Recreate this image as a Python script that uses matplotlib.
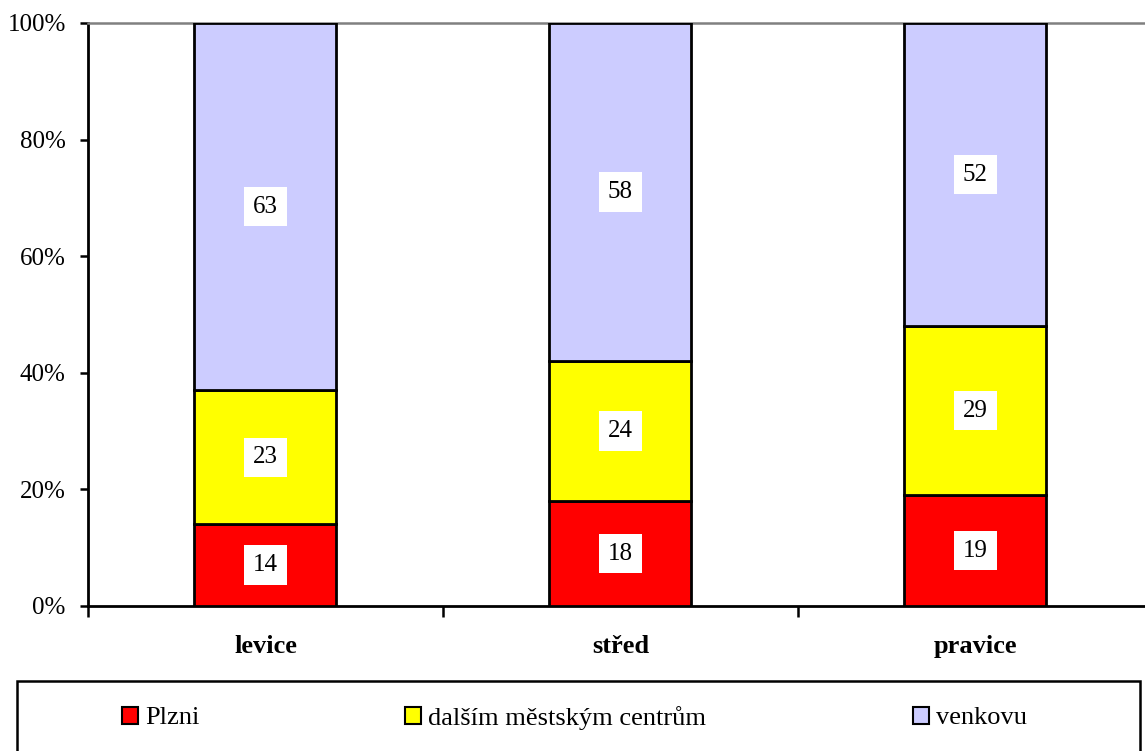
import matplotlib.pyplot as plt
import numpy as np
from matplotlib.patches import Rectangle

kategorie = ["levice", "střed", "pravice"]
plzni = [14, 18, 19]
centra = [23, 24, 29]
venkov = [63, 58, 52]
serie_nazvy = ["Plzni", "dalším městským centrům", "venkovu"]
barvy = ["#ff0000", "#ffff00", "#ccccff"]
yticky = [0, 20, 40, 60, 80, 100]


def main():
    plt.rcParams['font.family'] = ['Liberation Serif', 'DejaVu Serif']

    fig = plt.figure(figsize=(11.45, 7.51), dpi=100)
    W, H = 1145, 751
    ax = fig.add_axes([88 / W, 145 / H, (1153 - 88) / W, 583 / H])

    x = np.arange(len(kategorie))
    hodnoty = [plzni, centra, venkov]
    spodek = np.zeros(len(kategorie))
    for i, vals in enumerate(hodnoty):
        vals = np.array(vals, dtype=float)
        ax.bar(x, vals, 0.4, bottom=spodek, color=barvy[i],
               edgecolor='black', linewidth=2, label=serie_nazvy[i], zorder=3)
        for xi, b, v in zip(x, spodek, vals):
            ax.text(xi, b + v / 2, f"{int(v)}", ha='center', va='center',
                    fontsize=18, zorder=4,
                    bbox=dict(boxstyle='square,pad=0.35', fc='white', ec='none'))
        spodek += vals

    ax.set_xlim(-0.5, 2.5)
    ax.set_ylim(0, 100)
    ax.set_yticks(yticky)
    ax.set_yticklabels([f"{t}%" for t in yticky], fontsize=18)
    ax.tick_params(axis='y', direction='out', length=6, width=1.8, pad=10)

    ax.set_xticks(x)
    ax.set_xticklabels(kategorie, fontsize=19, fontweight='bold')
    ax.tick_params(axis='x', which='major', length=0, pad=21)
    ax.set_xticks([-0.5, 0.5, 1.5, 2.5], minor=True)
    ax.tick_params(axis='x', which='minor', direction='out', length=8, width=1.8)

    ax.spines['right'].set_visible(False)
    ax.spines['top'].set_color('#808080')
    ax.spines['top'].set_linewidth(1.8)
    ax.spines['left'].set_linewidth(2)
    ax.spines['bottom'].set_linewidth(2)

    # ramecek legendy
    fig.patches.append(Rectangle((17 / W, -0.02), (1140 - 17) / W, (751 - 681) / H + 0.02,
                                 transform=fig.transFigure, fill=False,
                                 edgecolor='black', linewidth=1.8))

    handles, labels = ax.get_legend_handles_labels()
    pozice = [122, 405, 913]
    for h, l, px in zip(handles, labels, pozice):
        leg = fig.legend([h], [l], loc='center left',
                         bbox_to_anchor=(px / W, 1 - 718 / H), frameon=False,
                         fontsize=19, borderpad=0, borderaxespad=0,
                         handlelength=0.62, handleheight=0.62, handletextpad=0.25)
        for p in leg.get_patches():
            p.set_linewidth(1.5)

    fig.savefig('out.png', dpi=100)


if __name__ == "__main__":
    main()
